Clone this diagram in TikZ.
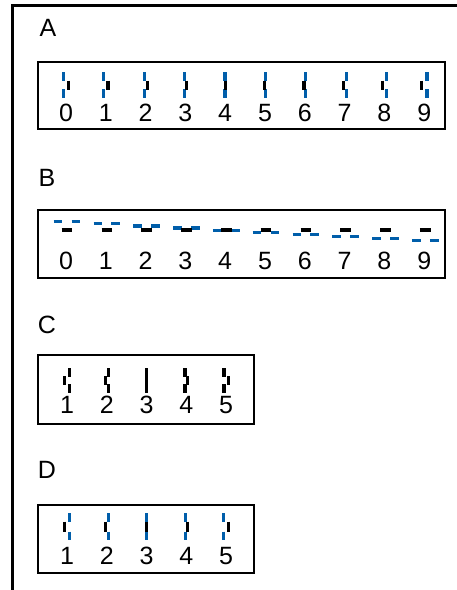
\documentclass[tikz,border=0pt]{standalone}
\usepackage{fontspec}
\setmainfont{Liberation Sans}
\definecolor{vblue}{RGB}{0,94,170}
\begin{document}
\begin{tikzpicture}[x=1pt,y=-1pt,
  box/.style={draw=black,line width=2pt},
  lbl/.style={font=\fontsize{25}{30}\selectfont,inner sep=0pt},
  bseg/.style={draw=vblue,line width=3.2pt},
  kseg/.style={draw=black,line width=3.2pt}]
\useasboundingbox (0,0) rectangle (457,590);
\draw[line width=3pt] (12.5,590) -- (12.5,5.5) -- (457,5.5);
% panel labels
\node[lbl] (lA) at (48,28) {A};
\node[lbl] (lB) at (47,178) {B};
\node[lbl] (lC) at (47,325) {C};
\node[lbl] (lD) at (47,470) {D};
% boxes
\draw[box] (38,62) rectangle (445,129);
\draw[box] (38,210) rectangle (445,278);
\draw[box] (38,355) rectangle (254,424);
\draw[box] (38,505) rectangle (254,573);
% panel A
\foreach \i in {0,...,9}{
  \pgfmathsetmacro\cx{66+39.8*\i}
  \pgfmathsetmacro\xb{\cx-(4.5-\i)*0.6}
  \pgfmathsetmacro\xk{\cx+(4.5-\i)*0.6}
  \draw[bseg] (\xb,72) -- (\xb,80.7) (\xb,89.3) -- (\xb,98);
  \draw[kseg] (\xk,80.5) -- (\xk,89.5);
  \node[lbl] (a\i) at (\cx,113) {\i};
}
% panel B
\foreach \i in {0,...,9}{
  \pgfmathsetmacro\cx{66+39.8*\i}
  \pgfmathsetmacro\by{230-8.3+2.1*\i}
  \pgfmathsetmacro\xa{\cx+1-13.3}
  \pgfmathsetmacro\xbb{\cx+1-4.6}
  \pgfmathsetmacro\xc{\cx+1+4.6}
  \pgfmathsetmacro\xd{\cx+1+13.3}
  \pgfmathsetmacro\xe{\cx+1-5.3}
  \pgfmathsetmacro\xf{\cx+1+5.3}
  \draw[bseg] (\xa,\by) -- (\xbb,\by) (\xc,\by) -- (\xd,\by);
  \draw[kseg] (\xe,230) -- (\xf,230);
  \node[lbl] (b\i) at (\cx,261) {\i};
}
% panel C
\foreach \i/\o in {1/-4,2/-2.5,3/0,4/2.5,5/4}{
  \pgfmathsetmacro\cx{67+39.8*(\i-1)}
  \pgfmathsetmacro\xo{\cx-\o*0.55}
  \pgfmathsetmacro\xm{\cx+\o*0.55}
  \draw[kseg] (\xo,368) -- (\xo,376.6) (\xo,384.4) -- (\xo,393);
  \draw[kseg] (\xm,376.3) -- (\xm,384.7);
  \node[lbl] (c\i) at (\cx,405) {\i};
}
% panel D
\foreach \i/\o in {1/-4.5,2/-3,3/0,4/2.5,5/5}{
  \pgfmathsetmacro\cx{67+39.8*(\i-1)}
  \pgfmathsetmacro\xo{\cx-\o*0.5}
  \pgfmathsetmacro\xm{\cx+\o*0.5}
  \draw[bseg] (\xo,513.3) -- (\xo,521.7) (\xo,531.7) -- (\xo,540);
  \draw[kseg] (\xm,521.5) -- (\xm,531.9);
  \node[lbl] (d\i) at (\cx,556) {\i};
}
\end{tikzpicture}
\end{document}
